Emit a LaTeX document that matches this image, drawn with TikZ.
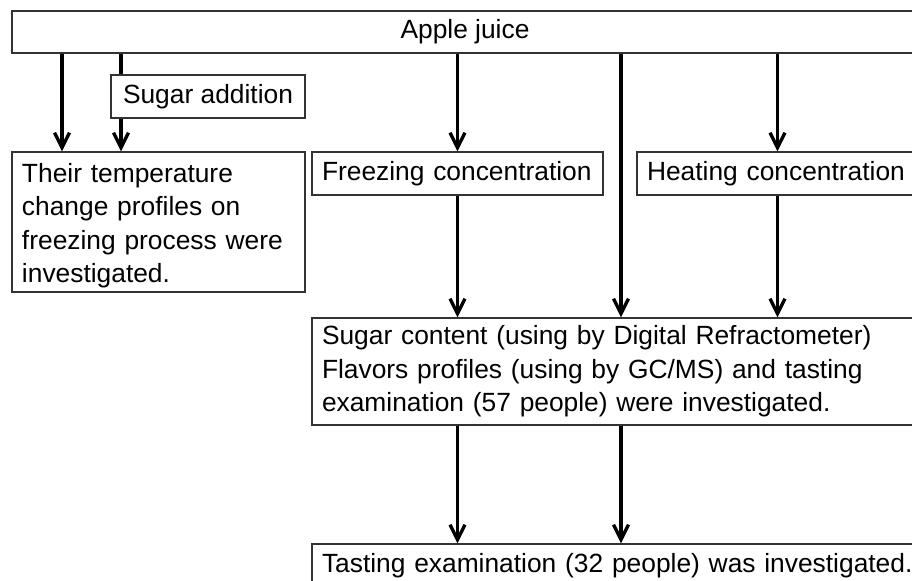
\documentclass[tikz,border=0pt]{standalone}
\usepackage{fontspec}
\setmainfont{Liberation Sans}
\usetikzlibrary{arrows.meta}
\tikzset{
  bx/.style={draw=black!80, line width=0.7pt, inner xsep=0.2cm, inner ysep=0pt,
    minimum height=0.86cm, align=left}}

\begin{document}
\begin{tikzpicture}[font=\fontsize{15}{19}\selectfont,
      arr/.style={-{Straight Barb[length=0.3cm, width=0.3cm]}, line width=1.9pt},
      ln/.style={line width=1.9pt}]
      \useasboundingbox (0,0) rectangle (18.24,11.6);
      \clip (0,0) rectangle (18.24,11.6);
      \node[bx, minimum width=18.12cm, minimum height=0.84cm, align=center] (juice) at (9.3,10.96) {Apple juice};
      \node[bx, minimum width=3.88cm, align=center] (sugar) at (4.16,9.67) {Sugar addition};
      \node[bx, text width=5.46cm, minimum height=2.8cm] (temp) at (3.17,7.16)
        {\rule{0pt}{15pt}Their temperature\\ change profiles on\\ freezing process were\\ investigated.};
      \node[bx, text width=5.42cm] (freeze) at (9.15,8.13) {Freezing concentration};
      \node[bx, text width=5.22cm] (heat) at (15.55,8.13) {Heating concentration};
      \node[bx, text width=11.72cm, minimum height=2.14cm] (content) at (12.3,4.17)
        {Sugar content (using by Digital Refractometer)\\ Flavors profiles (using by GC/MS) and tasting\\ examination (57 people) were investigated.};
      \node[bx, text width=12.2cm] (taste) at (12.54,0.29) {Tasting examination (32 people) was investigated.};
      \coordinate (c1) at (1.24,0);
      \coordinate (c2) at (2.42,0);
      \coordinate (c3) at (12.42,0);
      \draw[arr] (juice.south -| c1) -- (temp.north -| c1);
      \draw[ln] (juice.south -| c2) -- (sugar.north -| c2);
      \draw[arr] (sugar.south -| c2) -- (temp.north -| c2);
      \draw[arr] (juice.south -| freeze.north) -- (freeze.north);
      \draw[arr] (juice.south -| heat.north) -- (heat.north);
      \draw[arr] (juice.south -| c3) -- (content.north -| c3);
      \draw[arr] (freeze.south) -- (content.north -| freeze.south);
      \draw[arr] (heat.south) -- (content.north -| heat.south);
      \draw[arr] (content.south -| freeze.south) -- (taste.north -| freeze.south);
      \draw[arr] (content.south -| c3) -- (taste.north -| c3);
    \end{tikzpicture}
\end{document}
